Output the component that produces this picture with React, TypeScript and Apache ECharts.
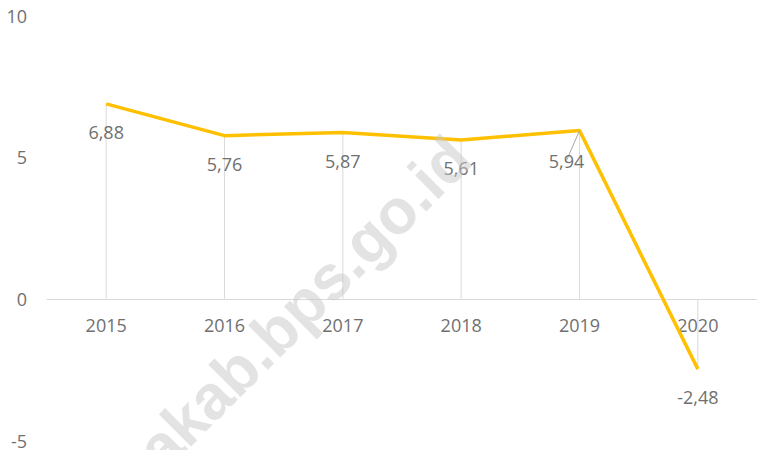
import React, { useEffect, useRef } from "react";
import * as echarts from "echarts";

const years = ["2015", "2016", "2017", "2018", "2019", "2020"];
const growth = [6.88, 5.76, 5.87, 5.61, 5.94, -2.48];
const yTicks = { min: -5, max: 10, interval: 5 };
const watermark = "akab.bps.go.id";

const TEXT = "#707070";
const FONT = "'Open Sans', 'Noto Sans', sans-serif";

export default function App() {
  const ref = useRef<HTMLDivElement>(null);
  useEffect(() => {
    if (!ref.current) return;
    const chart = echarts.init(ref.current, null, { renderer: "svg" });
    const fmt = (v: number) => v.toFixed(2).replace(".", ",");
    chart.setOption({
      animation: false,
      backgroundColor: "#ffffff",
      textStyle: { fontFamily: FONT },
      grid: {
        left: 47,
        right: 0,
        top: 15.5,
        bottom: 9.5,
        containLabel: false,
        outerBoundsMode: "none",
      },
      xAxis: {
        type: "category",
        data: years,
        boundaryGap: true,
        axisLine: { show: true, onZero: true, lineStyle: { color: "#d9d9d9", width: 1 } },
        axisTick: { show: false },
        axisLabel: { show: false },
        splitLine: { show: false },
      },
      yAxis: {
        type: "value",
        min: yTicks.min,
        max: yTicks.max,
        interval: yTicks.interval,
        axisLine: { show: false },
        axisTick: { show: false },
        splitLine: { show: false },
        axisLabel: { color: TEXT, fontSize: 18, fontFamily: FONT, margin: 20 },
      },
      series: [
        {
          type: "bar",
          data: growth,
          barWidth: 1,
          itemStyle: { color: "#d9d9d9" },
          silent: true,
          z: 1,
        },
        {
          type: "scatter",
          data: years.map((_, i) => [i, 0]),
          symbolSize: 0,
          silent: true,
          itemStyle: { opacity: 1 },
          label: {
            show: true,
            position: "bottom",
            distance: 17,
            color: TEXT,
            opacity: 1,
            fontSize: 18,
            fontFamily: FONT,
            formatter: (p: any) => years[p.dataIndex],
          },
          z: 2,
        },
        {
          type: "line",
          data: growth.map((v, i) =>
            i === 4
              ? {
                  value: v,
                  label: { offset: [-13, 2] },
                  labelLine: { show: true, lineStyle: { color: "#a6a6a6", width: 1 } },
                }
              : v
          ),
          showSymbol: true,
          symbol: "circle",
          symbolSize: 0,
          lineStyle: { color: "#FFC000", width: 3.5 },
          itemStyle: { color: "#FFC000" },
          label: {
            show: true,
            position: "bottom",
            distance: 19,
            color: TEXT,
            fontSize: 18,
            fontFamily: FONT,
            formatter: (p: any) => fmt(p.value),
          },
          z: 3,
        },
      ],
      graphic: [
        {
          type: "text",
          x: 170,
          y: 481,
          rotation: Math.PI / 4,
          z: 100,
          silent: true,
          style: {
            text: watermark,
            fill: "rgba(200,200,200,0.5)",
            font: "bold 63px 'Liberation Sans', Arial, sans-serif",
            textAlign: "left",
            textVerticalAlign: "bottom",
            align: "left",
            verticalAlign: "bottom",
          },
        },
      ],
    });
    return () => chart.dispose();
  }, []);
  return (
    <div
      ref={ref}
      style={{ position: "fixed", left: 0, top: 0, width: 757, height: 450, background: "#fff" }}
    />
  );
}
